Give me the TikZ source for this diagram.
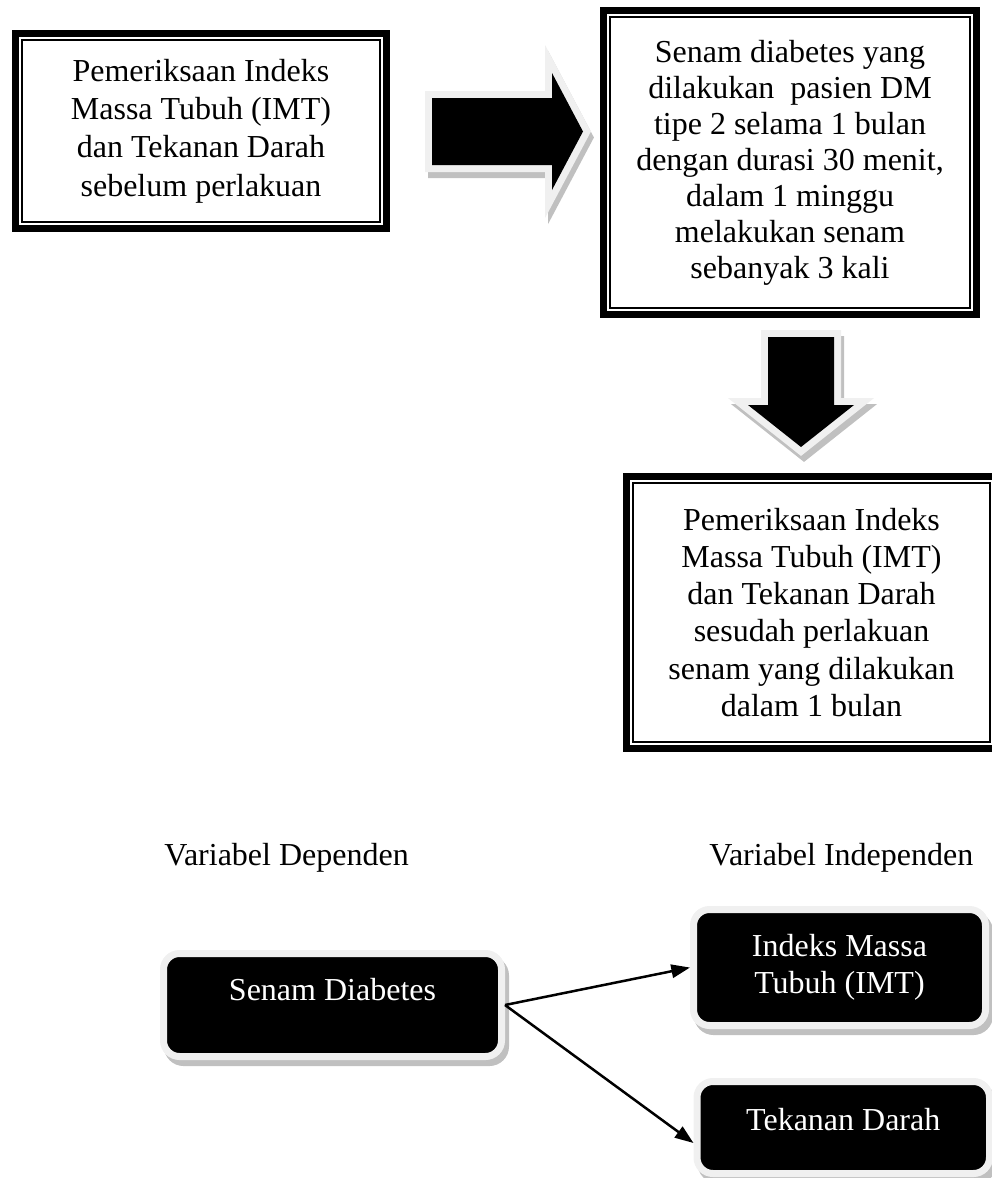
\documentclass[tikz,border=0pt]{standalone}
\usepackage{fontspec}
\setmainfont{Liberation Serif}
\usepackage{tikz}
\usetikzlibrary{arrows.meta, calc}
\usepackage{xcolor}

\definecolor{bandgray}{RGB}{240,240,240}
\definecolor{shadowgray}{RGB}{192,192,192}
\newcommand{\px}{0.375pt}

\tikzset{
  teks/.style={font=\fontsize{12}{13.9}\selectfont},
  framebox/.style={teks, draw, line width=7*\px, align=center, inner sep=0pt},
  varbox/.style={teks, fill=black, text=white, draw=bandgray, line width=7*\px,
    rounded corners=16*\px, inner sep=0pt,
    preaction={draw=shadowgray, fill=shadowgray, transform canvas={shift={(4*\px,-6*\px)}}}},
  conn/.style={line width=2.5*\px, -{Triangle[length=7pt,width=5pt]}}
}

\begin{document}
\begin{tikzpicture}[x=\px, y=-\px]
  \useasboundingbox (0,0) rectangle (992,1178);

  % block arrows: shadow and band first, black on top
  \foreach \c/\dx/\dy in {shadowgray/3/6, bandgray/0/0} {
      \filldraw[\c, line width=14*\px, miter limit=8, shift={(\dx,\dy)}] (432,98) -- (552,98) -- (552,73) -- (583,131.5)
        -- (552,190) -- (552,165) -- (432,165) -- cycle;
      \filldraw[\c, line width=14*\px, shift={(\dx,\dy)}] (768,337) -- (834,337) -- (834,405) -- (854,405)
        -- (801,447) -- (748,405) -- (768,405) -- cycle;
    }
  \fill (432,98) -- (552,98) -- (552,73) -- (583,131.5) -- (552,190) -- (552,165) -- (432,165) -- cycle;
  \fill (768,337) -- (834,337) -- (834,405) -- (854,405) -- (801,447) -- (748,405) -- (768,405) -- cycle;

  % flow boxes
  \node[framebox, font=\fontsize{12}{14.4}\selectfont, minimum width=371*\px, minimum height=195*\px] (periksa1) at (201,131)
    {Pemeriksaan Indeks\\Massa Tubuh (IMT)\\dan Tekanan Darah\\sebelum perlakuan};
  \node[framebox, font=\fontsize{12}{13.5}\selectfont, minimum width=373*\px, minimum height=304*\px] (latihan) at (790,162.5)
    {Senam diabetes yang\\dilakukan~ pasien DM\\tipe 2 selama 1 bulan\\dengan durasi 30 menit,\\dalam 1 minggu\\melakukan senam\\sebanyak 3 kali};
  \node[framebox, minimum width=370*\px, minimum height=271.5*\px] (periksa2) at (811.5,612.5)
    {Pemeriksaan Indeks\\Massa Tubuh (IMT)\\dan Tekanan Darah\\sesudah perlakuan\\senam yang dilakukan\\dalam 1 bulan};

  % thin inner frame
  \foreach \b in {periksa1, latihan, periksa2} {
      \draw[line width=1.8*\px] ([shift={(10,10)}]\b.north west) rectangle ([shift={(-10,-10)}]\b.south east);
    }

  % variables
  \node[teks, anchor=base west] (dependen) at (155,865) {Variabel Dependen};
  \node[teks, anchor=base west] (independen) at (700,865) {Variabel Independen};

  \node[varbox, minimum width=338*\px, minimum height=103*\px, text depth=12pt] (bebas) at (332.5,1005) {Senam Diabetes};
  \node[varbox, align=center, minimum width=292*\px, minimum height=116*\px] (imt) at (839.5,967.5) {Indeks Massa\\Tubuh (IMT)};
  \node[varbox, minimum width=292.5*\px, minimum height=92*\px, text depth=6.3pt] (darah) at (843.25,1127.5) {Tekanan Darah};

  \draw[conn] (bebas.east) -- (imt.west);
  \draw[conn] (bebas.east) -- ([yshift=-15.5*\px]darah.west);
\end{tikzpicture}
\end{document}
